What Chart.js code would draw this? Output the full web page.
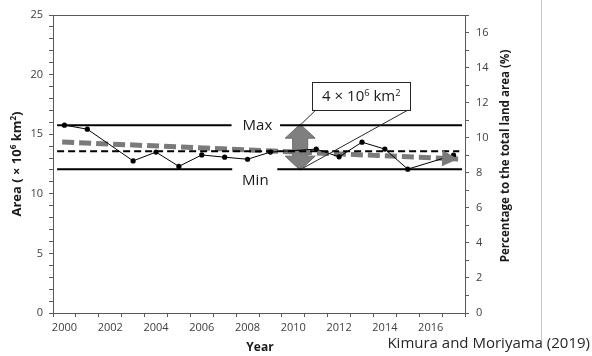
<!DOCTYPE html>
<html>
<head>
<meta charset="utf-8">
<script src="https://cdn.jsdelivr.net/npm/chart.js@4/dist/chart.umd.min.js"></script>
<style>
  html, body { margin: 0; padding: 0; background: #ffffff; }
  canvas { display: block; }
</style>
</head>
<body>
<canvas id="c" width="592" height="356"></canvas>
<script>
// Yearly area (×10^6 km²); null where no estimate exists
const years = [2000, 2001, 2002, 2003, 2004, 2005, 2006, 2007, 2008,
               2009, 2010, 2011, 2012, 2013, 2014, 2015, 2016, 2017];
const yearLabels = years.map(String);
const area = [15.76, 15.42, null, 12.76, 13.5, 12.3, 13.26, 13.07, 12.9,
              13.5, null, 13.75, 13.1, 14.33, 13.75, 12.07, null, 13.24];

// Reference levels
const maxArea = 15.76;
const minArea = 12.07;
const meanArea = 13.58;
const trendStartArea = 14.35;
const trendEndArea = 12.92;

// Axis tick labels
const areaTickLabels = [0, 5, 10, 15, 20, 25];
const percentTickLabels = [0, 2, 4, 6, 8, 10, 12, 14, 16];
const yearTickLabels = ['2000', '2002', '2004', '2006', '2008', '2010', '2012', '2014', '2016'];

const FONT = "'Open Sans', sans-serif";
const AXIS_COLOR = '#595959';
const TEXT_COLOR = '#404040';

// draws text made of normal and superscript parts
function richWidth(ctx, parts, size, weight) {
  let w = 0;
  for (const p of parts) {
    const s = p.sup ? size * 0.62 : size;
    ctx.font = `${weight} ${s}px ${FONT}`;
    w += ctx.measureText(p.t).width;
  }
  return w;
}
function drawRich(ctx, parts, x, y, size, weight, align) {
  const total = richWidth(ctx, parts, size, weight);
  let cx = align === 'center' ? x - total / 2 : (align === 'right' ? x - total : x);
  ctx.textBaseline = 'alphabetic';
  ctx.textAlign = 'left';
  for (const p of parts) {
    const s = p.sup ? size * 0.62 : size;
    ctx.font = `${weight} ${s}px ${FONT}`;
    ctx.fillText(p.t, cx, p.sup ? y - size * 0.36 : y);
    cx += ctx.measureText(p.t).width;
  }
}

const pts = (list) => list.map(([x, y]) => ({ x, y }));

const decor = {
  id: 'decor',
  beforeDatasetsDraw(chart) {
    const { ctx } = chart;
    const xs = chart.scales.xl, ys = chart.scales.y;
    // double-headed range arrow between Max and Min
    const x = xs.getPixelForValue(2010.3);
    const top = ys.getPixelForValue(maxArea) - 1;
    const bot = ys.getPixelForValue(minArea) + 1;
    const head = 14, hw = 15, sw = 7.5;
    ctx.save();
    ctx.beginPath();
    ctx.moveTo(x, top);
    ctx.lineTo(x + hw, top + head);
    ctx.lineTo(x + sw, top + head);
    ctx.lineTo(x + sw, bot - head);
    ctx.lineTo(x + hw, bot - head);
    ctx.lineTo(x, bot);
    ctx.lineTo(x - hw, bot - head);
    ctx.lineTo(x - sw, bot - head);
    ctx.lineTo(x - sw, top + head);
    ctx.lineTo(x - hw, top + head);
    ctx.closePath();
    ctx.fillStyle = '#7f7f7f';
    ctx.fill();
    ctx.strokeStyle = '#6b6b6b';
    ctx.lineWidth = 1;
    ctx.stroke();
    ctx.restore();
  },
  afterDatasetsDraw(chart) {
    const { ctx } = chart;
    const xs = chart.scales.xl, ys = chart.scales.y;
    // arrowhead at the end of the trend line
    const meta = chart.getDatasetMeta(2);
    const p0 = meta.data[0], p1 = meta.data[1];
    const ang = Math.atan2(p1.y - p0.y, p1.x - p0.x);
    const L = 16, W = 8;
    ctx.save();
    ctx.translate(p1.x, p1.y);
    ctx.rotate(ang);
    ctx.beginPath();
    ctx.moveTo(0, 0);
    ctx.lineTo(-L, -W);
    ctx.lineTo(-L, W);
    ctx.closePath();
    ctx.fillStyle = '#7a7a7a';
    ctx.fill();
    ctx.restore();

    // callout box for the range
    const ax = xs.getPixelForValue(2010.3);
    const aTop = ys.getPixelForValue(maxArea);
    const aBot = ys.getPixelForValue(minArea);
    const bl = xs.getPixelForValue(2010.82), br = xs.getPixelForValue(2015.12);
    const bt = ys.getPixelForValue(19.38), bb = ys.getPixelForValue(17.05);
    ctx.save();
    ctx.strokeStyle = '#262626';
    ctx.lineWidth = 1;
    ctx.beginPath();
    ctx.moveTo(bl + 4, bb);
    ctx.lineTo(ax, aTop);
    ctx.moveTo(br - 2, bb);
    ctx.lineTo(ax + 1, aBot);
    ctx.stroke();
    ctx.fillStyle = '#ffffff';
    ctx.fillRect(bl, bt, br - bl, bb - bt);
    ctx.strokeRect(Math.round(bl) + 0.5, Math.round(bt) + 0.5, Math.round(br - bl), Math.round(bb - bt));
    ctx.fillStyle = '#1a1a1a';
    drawRich(ctx, [{ t: '4 × 10' }, { t: '6', sup: true }, { t: ' km' }, { t: '2', sup: true }],
      (bl + br) / 2, (bt + bb) / 2 + 5.5, 15, 'normal', 'center');
    ctx.restore();
  },
  afterDraw(chart) {
    const { ctx, chartArea } = chart;
    const xs = chart.scales.xl, ys = chart.scales.y;
    ctx.save();
    // top frame line
    ctx.strokeStyle = AXIS_COLOR;
    ctx.lineWidth = 1;
    ctx.beginPath();
    ctx.moveTo(chartArea.left, chartArea.top + 0.5);
    ctx.lineTo(chartArea.right, chartArea.top + 0.5);
    ctx.stroke();
    // separator on the right
    ctx.strokeStyle = '#c8c8c8';
    ctx.beginPath();
    ctx.moveTo(541.5, 0);
    ctx.lineTo(541.5, 343);
    ctx.stroke();

    // Max / Min labels
    ctx.fillStyle = '#1a1a1a';
    ctx.font = `15px ${FONT}`;
    ctx.textAlign = 'center';
    ctx.textBaseline = 'middle';
    ctx.fillText('Max', xs.getPixelForValue(2008.43), ys.getPixelForValue(maxArea) + 1);
    ctx.fillText('Min', xs.getPixelForValue(2008.34), ys.getPixelForValue(minArea) + 12);

    // axis titles
    ctx.fillStyle = '#1a1a1a';
    ctx.save();
    ctx.translate(21, 164);
    ctx.rotate(-Math.PI / 2);
    drawRich(ctx, [{ t: 'Area ( × 10' }, { t: '6', sup: true }, { t: ' km' }, { t: '2', sup: true }, { t: ')' }],
      0, 0, 13, 'bold', 'center');
    ctx.restore();

    ctx.save();
    ctx.translate(509, 156);
    ctx.rotate(-Math.PI / 2);
    ctx.font = `bold 11.6px ${FONT}`;
    ctx.textAlign = 'center';
    ctx.textBaseline = 'alphabetic';
    ctx.fillText('Percentage to the total land area (%)', 0, 0);
    ctx.restore();

    ctx.font = `bold 12px ${FONT}`;
    ctx.textAlign = 'center';
    ctx.textBaseline = 'middle';
    ctx.fillText('Year', 260, 348);

    // source note
    ctx.fillStyle = '#262626';
    ctx.font = `15px ${FONT}`;
    ctx.textAlign = 'right';
    ctx.fillText('Kimura and Moriyama (2019)', 590, 344);
    ctx.restore();
  }
};

new Chart(document.getElementById('c'), {
  type: 'line',
  data: {
    labels: yearLabels,
    datasets: [
      {
        label: 'Area',
        data: years.map((yr, i) => ({ x: yr, y: area[i] })),
        xAxisID: 'xl', yAxisID: 'y',
        borderColor: '#000000', borderWidth: 1,
        pointRadius: 2.6, pointBackgroundColor: '#000000', pointBorderWidth: 0,
        spanGaps: true, order: 0
      },
      {
        label: 'Mean',
        data: pts([[1999.68, meanArea], [2017.25, meanArea]]),
        xAxisID: 'xl', yAxisID: 'y',
        borderColor: '#000000', borderWidth: 2, borderDash: [7, 4],
        pointRadius: 0, order: 1
      },
      {
        label: 'Trend',
        data: pts([[1999.9, trendStartArea], [2017.2, trendEndArea]]),
        xAxisID: 'xl', yAxisID: 'y',
        borderColor: '#7a7a7a', borderWidth: 5, borderDash: [12, 5],
        borderCapStyle: 'butt',
        pointRadius: 0, order: 2
      },
      {
        label: 'Max',
        data: pts([[1999.68, maxArea], [2007.3, maxArea], [2008.4, null], [2009.42, maxArea], [2017.37, maxArea]]),
        xAxisID: 'xl', yAxisID: 'y',
        borderColor: '#000000', borderWidth: 2,
        pointRadius: 0, spanGaps: false, order: 3
      },
      {
        label: 'Min',
        data: pts([[1999.68, minArea], [2007.33, minArea], [2008.4, null], [2009.3, minArea], [2017.37, minArea]]),
        xAxisID: 'xl', yAxisID: 'y',
        borderColor: '#000000', borderWidth: 2,
        pointRadius: 0, spanGaps: false, order: 3
      }
    ]
  },
  options: {
    responsive: false,
    devicePixelRatio: 1,
    animation: false,
    layout: { padding: { top: 15, left: 0, right: 0, bottom: 0 } },
    plugins: { legend: { display: false }, tooltip: { enabled: false } },
    scales: {
      x: {
        type: 'category',
        position: 'bottom',
        offset: true,
        afterFit(s) { s.height = 43; },
        grid: { offset: true, drawOnChartArea: false, tickLength: 4, color: AXIS_COLOR },
        border: { color: AXIS_COLOR, width: 1 },
        ticks: {
          autoSkip: false, maxRotation: 0, padding: 4,
          color: TEXT_COLOR, font: { family: FONT, size: 11 },
          callback(v, i) { const l = yearLabels[i]; return yearTickLabels.includes(l) ? l : ''; }
        }
      },
      xl: {
        type: 'linear',
        display: false,
        min: 1999.5, max: 2017.5
      },
      y: {
        type: 'linear',
        position: 'left',
        min: 0, max: 25,
        afterFit(s) { s.width = 53; },
        grid: { drawOnChartArea: false, tickLength: 4, color: AXIS_COLOR },
        border: { color: AXIS_COLOR, width: 1 },
        ticks: {
          stepSize: 1, padding: 6, autoSkip: false,
          color: TEXT_COLOR, font: { family: FONT, size: 11 },
          callback(v) { return areaTickLabels.includes(v) ? String(v) : ''; }
        }
      },
      y2: {
        type: 'linear',
        position: 'right',
        min: 0, max: 17,
        afterFit(s) { s.width = 127; },
        grid: { drawOnChartArea: false, tickLength: 4, color: AXIS_COLOR },
        border: { color: AXIS_COLOR, width: 1 },
        ticks: {
          stepSize: 1, padding: 7, autoSkip: false,
          color: TEXT_COLOR, font: { family: FONT, size: 11 },
          callback(v) { return percentTickLabels.includes(v) ? String(v) : ''; }
        }
      }
    }
  },
  plugins: [decor]
});
</script>
</body>
</html>
